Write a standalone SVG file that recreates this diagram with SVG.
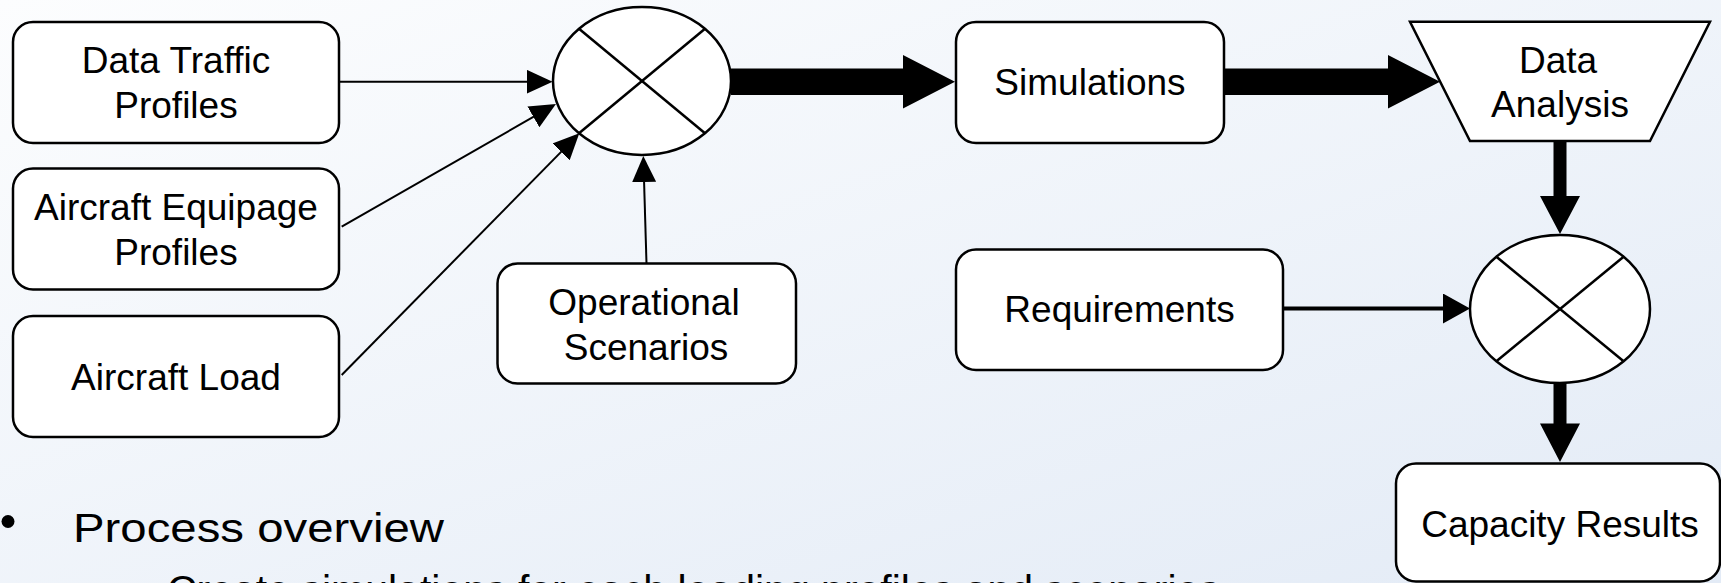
<svg xmlns="http://www.w3.org/2000/svg" width="1721" height="583" viewBox="0 0 1721 583">
<defs>
<linearGradient id="bg" x1="0" y1="0" x2="1" y2="1">
<stop offset="0" stop-color="#fcfdfe"/>
<stop offset="1" stop-color="#e3ebf6"/>
</linearGradient>
<marker id="ah" viewBox="0 0 26 24" refX="6" refY="12" markerWidth="26" markerHeight="24" markerUnits="userSpaceOnUse" orient="auto">
<path d="M0,0 L26,12 L0,24 z" fill="#000"/>
</marker>
<marker id="ah2" viewBox="0 0 27 30" refX="7" refY="15" markerWidth="27" markerHeight="30" markerUnits="userSpaceOnUse" orient="auto">
<path d="M0,0 L27,15 L0,30 z" fill="#000"/>
</marker>
</defs>
<style>
.box{fill:#fff;stroke:#000;stroke-width:2.5}
.x{stroke:#000;stroke-width:2.5;fill:none}
.lbl{font-family:"Liberation Sans",Arial,sans-serif;font-size:37px;fill:#000;text-anchor:middle}
.thin{stroke:#000;stroke-width:2;fill:none;marker-end:url(#ah)}
.med{stroke:#000;stroke-width:4;fill:none;marker-end:url(#ah2)}
.thick{fill:#000}
.body{font-family:"Liberation Sans",Arial,sans-serif;font-size:41px;fill:#000}
</style>
<rect x="0" y="0" width="1721" height="583" fill="url(#bg)"/>

<g id="connectors">
<line class="thin" x1="340" y1="81.7" x2="532.6" y2="81.7"/>
<line class="thin" x1="341.7" y1="226.7" x2="538.6" y2="113.9"/>
<line class="thin" x1="341.7" y1="375" x2="565.3" y2="147.6"/>
<line class="thin" x1="646.5" y1="263.3" x2="643.9" y2="176"/>
<line class="med" x1="1284" y1="308.5" x2="1450" y2="308.5"/>
<polygon class="thick" points="731,68.5 903,68.5 903,55 955,81.7 903,108.5 903,95 731,95"/>
<polygon class="thick" points="1224,68.5 1388,68.5 1388,55 1440,81.7 1388,108.5 1388,95 1224,95"/>
<polygon class="thick" points="1553.5,141 1566.5,141 1566.5,196 1580,196 1560,234 1540,196 1553.5,196"/>
<polygon class="thick" points="1553.5,383 1566.5,383 1566.5,423.5 1580,423.5 1560,462 1540,423.5 1553.5,423.5"/>
</g>

<g id="data-traffic">
<rect class="box" x="13" y="22" width="326" height="121" rx="20"/>
<text class="lbl" x="176" y="73.3">Data Traffic</text>
<text class="lbl" x="176" y="117.7">Profiles</text>
</g>
<g id="aircraft-equipage">
<rect class="box" x="13" y="168.5" width="326" height="121" rx="20"/>
<text class="lbl" x="176" y="220">Aircraft Equipage</text>
<text class="lbl" x="176" y="265">Profiles</text>
</g>
<g id="aircraft-load">
<rect class="box" x="13" y="316" width="326" height="121" rx="20"/>
<text class="lbl" x="176" y="390">Aircraft Load</text>
</g>
<g id="combiner-1">
<ellipse class="box" cx="642" cy="81" rx="89" ry="74"/>
<line class="x" x1="579" y1="28.7" x2="705" y2="133.3"/>
<line class="x" x1="705" y1="28.7" x2="579" y2="133.3"/>
</g>
<g id="operational-scenarios">
<rect class="box" x="497.5" y="263.5" width="298.5" height="120" rx="20"/>
<text class="lbl" x="644" y="315">Operational</text>
<text class="lbl" x="646" y="360">Scenarios</text>
</g>
<g id="simulations">
<rect class="box" x="956" y="22" width="268" height="121" rx="20"/>
<text class="lbl" x="1090" y="95">Simulations</text>
</g>
<g id="data-analysis">
<polygon class="box" points="1410,21.7 1710,21.7 1650,141 1470,141"/>
<text class="lbl" x="1558" y="72.7">Data</text>
<text class="lbl" x="1560" y="117.3">Analysis</text>
</g>
<g id="requirements">
<rect class="box" x="956" y="249.5" width="327" height="120.5" rx="20"/>
<text class="lbl" x="1119.5" y="321.7">Requirements</text>
</g>
<g id="combiner-2">
<ellipse class="box" cx="1560" cy="309" rx="90" ry="74"/>
<line class="x" x1="1496.4" y1="256.7" x2="1623.6" y2="361.3"/>
<line class="x" x1="1623.6" y1="256.7" x2="1496.4" y2="361.3"/>
</g>
<g id="capacity-results">
<rect class="box" x="1396" y="463.5" width="324" height="118" rx="20"/>
<text class="lbl" x="1560" y="536.7">Capacity Results</text>
</g>

<g id="notes">
<circle cx="8" cy="521.5" r="6.5" fill="#000"/>
<text class="body" x="73" y="541.7" textLength="371" lengthAdjust="spacingAndGlyphs">Process overview</text>
<text class="body" x="167" y="604">Create simulations for each loading profiles and scenarios</text>
</g>
</svg>
